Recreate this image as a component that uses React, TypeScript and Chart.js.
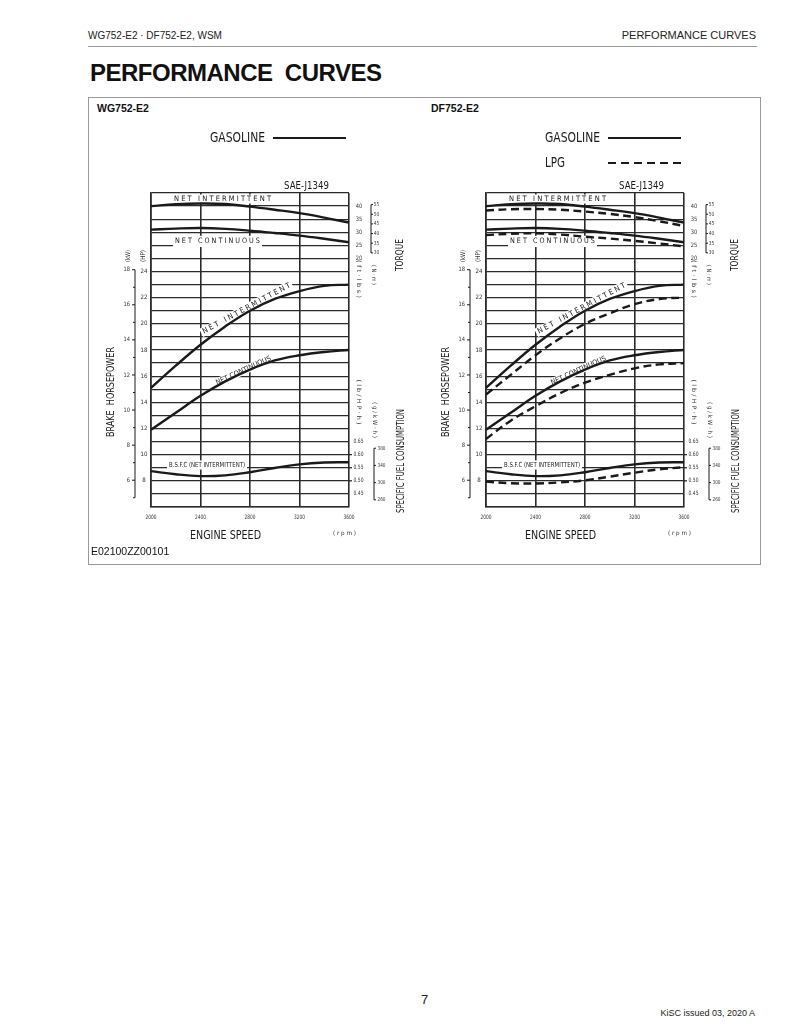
import React, { useEffect, useRef } from "react";
import { Chart, registerables } from "chart.js";

Chart.register(...registerables);

// ---------- data ----------
const rpm = [2000, 2200, 2400, 2600, 2800, 3000, 3200, 3400, 3600];
const rpmTicks = [2000, 2400, 2800, 3200, 3600];

// Gasoline
const gasTorqueInt = [40.0, 40.7, 41.0, 40.8, 39.8, 38.6, 37.3, 35.6, 33.7]; // ft·lbs
const gasTorqueCont = [31.0, 31.4, 31.6, 31.3, 30.6, 29.7, 28.7, 27.5, 26.2]; // ft·lbs
const gasHpInt = [15.1, 16.8, 18.4, 19.8, 21.0, 21.9, 22.5, 22.9, 23.0]; // HP
const gasHpCont = [11.9, 13.2, 14.5, 15.6, 16.5, 17.2, 17.6, 17.85, 18.0]; // HP
const gasBsfc = [0.537, 0.525, 0.518, 0.521, 0.533, 0.549, 0.563, 0.57, 0.571]; // lb/HP·h

// LPG
const lpgTorqueInt = [38.3, 38.8, 38.9, 38.6, 37.9, 37.0, 35.8, 34.2, 32.4];
const lpgTorqueCont = [28.9, 29.4, 29.6, 29.1, 28.3, 27.6, 26.7, 25.7, 24.6];
const lpgHpInt = [14.6, 16.1, 17.6, 18.9, 20.0, 20.8, 21.5, 21.9, 22.0];
const lpgHpCont = [11.2, 12.6, 13.7, 14.7, 15.5, 16.1, 16.6, 16.9, 17.0];
const lpgBsfc = [0.497, 0.491, 0.49, 0.494, 0.502, 0.516, 0.531, 0.544, 0.552];

// tick labels
const hpTicks = [24, 22, 20, 18, 16, 14, 12, 10, 8];
const kwTicks = [18, 16, 14, 12, 10, 8, 6];
const torqueTicks = [40, 35, 30, 25, 20];
const nmTicks = [55, 50, 45, 40, 35, 30];
const bsfcTicks = [0.65, 0.6, 0.55, 0.5, 0.45];
const gkwhTicks = [380, 340, 300, 260];

// unit conversions
const KW_TO_HP = 1.341;
const NM_TO_FTLB = 1 / 1.3558;
const GKWH_TO_LBHPH = 1 / 608.3;

const INK = "#1a1a1a";
const GRID = "#2b2b2b";
const FONT = '"DejaVu Sans Condensed", "Liberation Sans Narrow", "DejaVu Sans", sans-serif';
const SANS = '"Liberation Sans", Arial, Helvetica, sans-serif';

const spaced = (s: string) => s.split("").join(" ");

type TOpts = {
  w?: number;
  rot?: number;
  align?: "left" | "center" | "right";
  bg?: number;
  color?: string;
};

function drawText(ctx: CanvasRenderingContext2D, s: string, x: number, y: number, size: number, o: TOpts = {}) {
  const { w, rot = 0, align = "center", bg = 0, color = INK } = o;
  ctx.save();
  ctx.translate(x, y);
  if (rot) ctx.rotate((rot * Math.PI) / 180);
  ctx.font = `${size}px ${FONT}`;
  const m = ctx.measureText(s).width;
  const k = w ? w / m : 1;
  const width = m * k;
  const x0 = align === "center" ? -width / 2 : align === "right" ? -width : 0;
  if (bg) {
    ctx.fillStyle = "#fff";
    ctx.fillRect(x0 - 2, -size * bg, width + 4, size * bg * 2);
  }
  ctx.translate(x0, 0);
  ctx.scale(k, 1);
  ctx.fillStyle = color;
  ctx.textAlign = "left";
  ctx.textBaseline = "middle";
  ctx.fillText(s, 0, 0);
  ctx.restore();
}

function line(ctx: CanvasRenderingContext2D, x1: number, y1: number, x2: number, y2: number, w = 1, dash: number[] = []) {
  ctx.save();
  ctx.strokeStyle = INK;
  ctx.lineWidth = w;
  ctx.setLineDash(dash);
  ctx.beginPath();
  ctx.moveTo(x1, y1);
  ctx.lineTo(x2, y2);
  ctx.stroke();
  ctx.restore();
}

const makeDecor = (lpg: boolean) => ({
  id: "decor",
  beforeDatasetsDraw(chart: any) {
    const ctx: CanvasRenderingContext2D = chart.ctx;
    const sx = chart.scales.x;
    const sy = chart.scales.yHp;
    const P = (r: number, h: number) => [sx.getPixelForValue(r), sy.getPixelForValue(h)];
    let [x, y] = P(2578, 29.54);
    drawText(ctx, spaced("NET INTERMITTENT"), x, y, 7.5, { w: 97, bg: 0.6 });
    [x, y] = P(2537, 26.3);
    drawText(ctx, spaced("NET CONTINUOUS"), x, y, 7.5, { w: 85, bg: 0.75 });
    [x, y] = P(2772, 21.17);
    drawText(ctx, spaced("NET INTERMITTENT"), x, y, 7.5, { w: 99, rot: -28.4, bg: 0.6 });
    [x, y] = P(2747, 16.43);
    drawText(ctx, "NET CONTINUOUS", x, y, 7, { w: 60, rot: -24.7, bg: 0.6 });
    [x, y] = P(2453, 9.21);
    drawText(ctx, "B.S.F.C (NET INTERMITTENT)", x, y, 7, { w: 76, bg: 0.65 });
  },
  afterDraw(chart: any) {
    const ctx: CanvasRenderingContext2D = chart.ctx;
    const { left: L, right: R, top: T, bottom: B } = chart.chartArea;
    const sx = chart.scales.x;
    const hp = chart.scales.yHp;
    const tq = chart.scales.yTq;
    const bs = chart.scales.yBsfc;

    // legend
    drawText(ctx, "GASOLINE", 121, 40, 13.5, { w: 55, align: "left" });
    line(ctx, 184, 40, 257, 40, 2.2);
    if (lpg) {
      drawText(ctx, "LPG", 121, 65, 13.5, { w: 20, align: "left" });
      line(ctx, 184, 65, 257, 65, 2.2, [8, 5]);
    }
    drawText(ctx, "SAE-J1349", 217.5, 88, 10.5, { w: 45 });

    // x ticks
    rpmTicks.forEach((r) => drawText(ctx, String(r), sx.getPixelForValue(r), B + 10, 6, { w: 11, color: "#333" }));
    drawText(ctx, "ENGINE SPEED", L + 74.5, B + 29, 11.5, { w: 71 });
    drawText(ctx, spaced("(rpm)"), R - 4.5, B + 26, 6, { w: 23, color: "#333" });

    // HP axis labels
    hpTicks.forEach((h) => drawText(ctx, String(h), L - 7, hp.getPixelForValue(h), 6, { w: h >= 10 ? 7 : 3.5, color: "#333" }));
    // kW axis
    const kwX = L - 16;
    line(ctx, kwX, hp.getPixelForValue(18 * KW_TO_HP), kwX, hp.getPixelForValue(5 * KW_TO_HP), 1);
    for (let k = 5; k <= 18; k++) {
      const yy = hp.getPixelForValue(k * KW_TO_HP);
      line(ctx, kwX - (k % 2 === 0 ? 3 : 2), yy, kwX, yy, 1);
    }
    kwTicks.forEach((k) =>
      drawText(ctx, String(k), kwX - 5, hp.getPixelForValue(k * KW_TO_HP), 6, { w: k >= 10 ? 6.5 : 3.3, align: "right", color: "#333" })
    );
    drawText(ctx, "(kW)", L - 23, T + 63, 6.5, { w: 12, rot: -90, color: "#333" });
    drawText(ctx, "(HP)", L - 8, T + 63, 6.5, { w: 12, rot: -90, color: "#333" });
    drawText(ctx, "BRAKE  HORSEPOWER", L - 40, T + 199, 10.5, { w: 90, rot: -90 });

    // torque axes
    torqueTicks.forEach((t) => drawText(ctx, String(t), R + 10, tq.getPixelForValue(t), 6, { w: 6.5, color: "#333" }));
    const nmX = R + 22;
    line(ctx, nmX, tq.getPixelForValue(55 * NM_TO_FTLB), nmX, tq.getPixelForValue(30 * NM_TO_FTLB), 1);
    nmTicks.forEach((n) => {
      const yy = tq.getPixelForValue(n * NM_TO_FTLB);
      line(ctx, nmX, yy, nmX + 2, yy, 1);
      drawText(ctx, String(n), nmX + 5.5, yy, 5.5, { w: 5.5, color: "#333" });
    });
    drawText(ctx, spaced("(ft·lbs)"), R + 10, T + 86, 6, { w: 38, rot: 90, color: "#333" });
    drawText(ctx, spaced("(N·m)"), R + 25, T + 82, 6, { w: 20, rot: 90, color: "#333" });
    drawText(ctx, "TORQUE", R + 51, T + 62, 10, { w: 32, rot: -90 });

    // BSFC axes
    bsfcTicks.forEach((b) => {
      const yy = bs.getPixelForValue(b);
      if (b > 0.47 && b < 0.62) line(ctx, R, yy, R + 3, yy, 1.2);
      drawText(ctx, b.toFixed(2), R + 9.5, yy, 6, { w: 10, color: "#333" });
    });
    const gX = R + 25;
    line(ctx, gX, bs.getPixelForValue(380 * GKWH_TO_LBHPH), gX, bs.getPixelForValue(260 * GKWH_TO_LBHPH), 1);
    gkwhTicks.forEach((g) => {
      const yy = bs.getPixelForValue(g * GKWH_TO_LBHPH);
      line(ctx, gX, yy, gX + 2, yy, 1);
      drawText(ctx, String(g), gX + 7.5, yy, 5.5, { w: 8, color: "#333" });
    });
    drawText(ctx, spaced("(lb/HP·h)"), R + 10, T + 209, 6, { w: 45, rot: 90, color: "#333" });
    drawText(ctx, spaced("(g/kW·h)"), R + 26, T + 227, 6, { w: 36, rot: 90, color: "#333" });
    drawText(ctx, "SPECIFIC FUEL CONSUMPTION", R + 52, T + 268, 10, { w: 104, rot: -90 });
  },
});

function series(arr: number[], axis: string, dashed: boolean) {
  return {
    data: rpm.map((r, i) => ({ x: r, y: arr[i] })),
    yAxisID: axis,
    borderColor: INK,
    borderWidth: 2.4,
    borderDash: dashed ? [8, 4.5] : [],
    pointRadius: 0,
    fill: false,
    tension: 0.4,
  };
}

function Panel({ left, lpg }: { left: number; lpg: boolean }) {
  const ref = useRef<HTMLCanvasElement>(null);
  useEffect(() => {
    if (!ref.current) return;
    const datasets: any[] = [
      series(gasTorqueInt, "yTq", false),
      series(gasTorqueCont, "yTq", false),
      series(gasHpInt, "yHp", false),
      series(gasHpCont, "yHp", false),
      series(gasBsfc, "yBsfc", false),
    ];
    if (lpg) {
      datasets.push(
        series(lpgTorqueInt, "yTq", true),
        series(lpgTorqueCont, "yTq", true),
        series(lpgHpInt, "yHp", true),
        series(lpgHpCont, "yHp", true),
        series(lpgBsfc, "yBsfc", true)
      );
    }
    const chart = new Chart(ref.current, {
      type: "line",
      data: { datasets },
      options: {
        animation: false,
        responsive: false,
        devicePixelRatio: 1,
        layout: { padding: { left: 62, right: 72, top: 95, bottom: 55 } },
        plugins: { legend: { display: false }, tooltip: { enabled: false } },
        scales: {
          x: {
            type: "linear",
            min: 2000,
            max: 3600,
            ticks: { display: false, stepSize: 400 },
            grid: { color: GRID, lineWidth: 1.6, drawTicks: false },
            border: { display: true, color: GRID, width: 1.6 },
          },
          yHp: {
            type: "linear",
            position: "left",
            min: 6,
            max: 30,
            ticks: { display: false, stepSize: 1 },
            grid: { color: GRID, lineWidth: 1.3, drawTicks: false },
            border: { display: true, color: GRID, width: 1.6 },
          },
          yTq: { type: "linear", display: false, min: -75, max: 45 },
          yBsfc: { type: "linear", display: false, min: 0.4, max: 1.6 },
        },
      } as any,
      plugins: [makeDecor(lpg)],
    });
    return () => chart.destroy();
  }, [lpg]);
  return (
    <canvas
      ref={ref}
      width={332}
      height={464}
      style={{ position: "absolute", left, top: 98, width: 332, height: 464 }}
    />
  );
}

const abs = (o: React.CSSProperties): React.CSSProperties => ({ position: "absolute", whiteSpace: "pre", ...o });

export default function App() {
  return (
    <div style={{ position: "absolute", left: 0, top: 0, width: 794, height: 1027, background: "#fff", fontFamily: SANS, color: "#222" }}>
      <div style={abs({ left: 88, top: 30, fontSize: 10, lineHeight: "12px" })}>WG752-E2 · DF752-E2, WSM</div>
      <div style={abs({ right: 38, top: 29, fontSize: 11, lineHeight: "13px" })}>PERFORMANCE CURVES</div>
      <div style={abs({ left: 88, top: 46, width: 669, height: 0, borderTop: "1.5px solid #999" })} />
      <div style={abs({ left: 90, top: 59, fontSize: 24, fontWeight: "bold", lineHeight: "28px", letterSpacing: "-0.5px", color: "#111" })}>PERFORMANCE  CURVES</div>
      <div style={abs({ left: 88, top: 97, width: 673, height: 468, border: "1.5px solid #9a9a9a", boxSizing: "border-box" })} />
      <div style={abs({ left: 97, top: 102, fontSize: 10.5, fontWeight: "bold", lineHeight: "12px", color: "#111" })}>WG752-E2</div>
      <div style={abs({ left: 431, top: 102, fontSize: 10.5, fontWeight: "bold", lineHeight: "12px", color: "#111" })}>DF752-E2</div>
      <Panel left={89} lpg={false} />
      <Panel left={424} lpg={true} />
      <div style={abs({ left: 91, top: 545, fontSize: 10.5, lineHeight: "12px", color: "#111" })}>E02100ZZ00101</div>
      <div style={abs({ left: 421, top: 992, fontSize: 13, lineHeight: "15px" })}>7</div>
      <div style={abs({ right: 39, top: 1008, fontSize: 9, lineHeight: "11px" })}>KiSC issued 03, 2020 A</div>
    </div>
  );
}
